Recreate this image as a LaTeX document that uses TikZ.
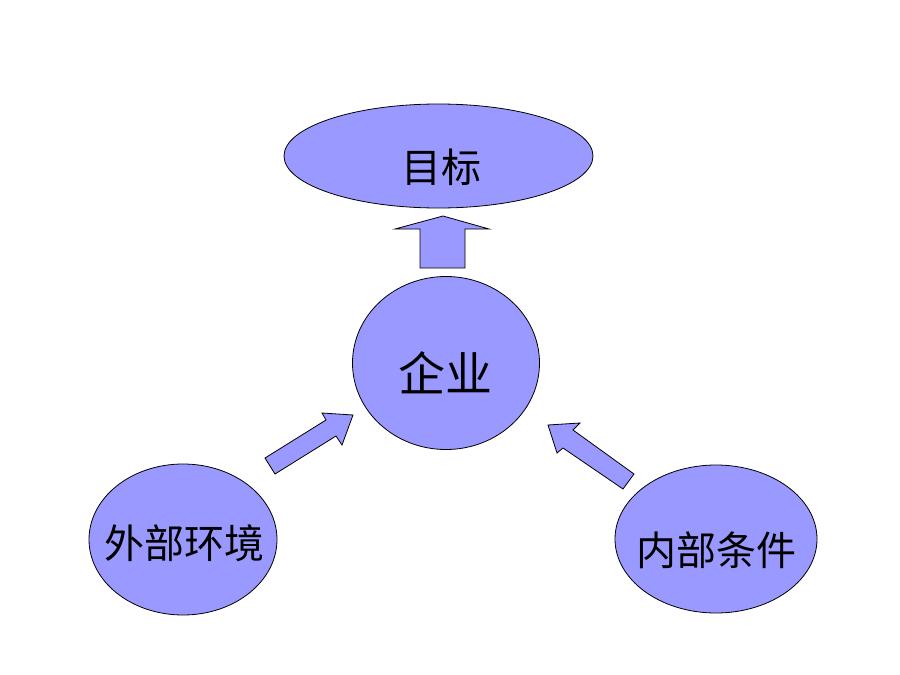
\documentclass[tikz,border=0pt]{standalone}
\usepackage{fontspec}
\usetikzlibrary{shapes.geometric}
\newfontfamily\cjk{Noto Sans CJK SC}
\definecolor{blob}{HTML}{9999FF}
\begin{document}
\begin{tikzpicture}[x=1pt,y=-1pt,
  blobshape/.style={draw=black,fill=blob,line width=0.8pt},
  label/.style={font=\cjk\fontsize{40}{44}\selectfont,inner sep=0pt},
  bigarrow/.style={draw=black,fill=blob,line width=0.8pt,line join=miter}]
\useasboundingbox (0,0) rectangle (900,675);
\fill[white] (0,0) rectangle (900,675);
% ellipses
\node[blobshape,ellipse,minimum width=309pt,minimum height=104pt,inner sep=0pt] (goal) at (438.5,156) {};
\node[blobshape,ellipse,minimum width=187pt,minimum height=173pt,inner sep=0pt] (firm) at (446,363) {};
\node[blobshape,ellipse,minimum width=188pt,minimum height=151pt,inner sep=0pt] (ext) at (183,539.5) {};
\node[blobshape,ellipse,minimum width=202pt,minimum height=148pt,inner sep=0pt] (int) at (716,539) {};
% labels
\node[label] (goalt) at (441,167) {目标};
\node[label,font=\cjk\fontsize{47}{50}\selectfont] (firmt) at (445,373) {企业};
\node[label] (extt) at (184,543) {外部环境};
\node[label] (intt) at (716,550) {内部条件};
% block arrows
\draw[bigarrow] (420,268) -- (420,229) -- (395,229) -- (443,216) -- (489,229) -- (465,229) -- (465,268) -- cycle;
\draw[bigarrow] (265,458) -- (326,420) -- (322,413) -- (353,415) -- (342,445) -- (336,436) -- (275,474) -- cycle;
\draw[bigarrow] (634,474) -- (573,430) -- (580,423) -- (548,425) -- (557,453) -- (563,448) -- (623,489) -- cycle;
\end{tikzpicture}
\end{document}
